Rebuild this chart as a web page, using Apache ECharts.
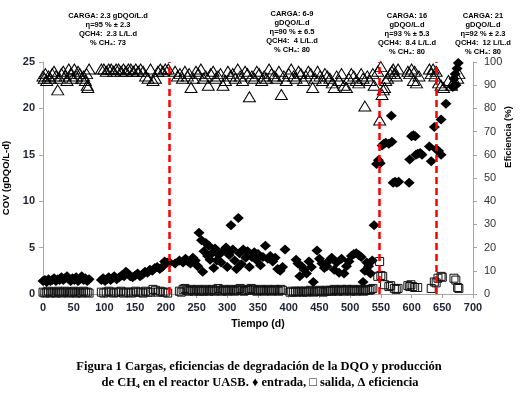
<!DOCTYPE html>
<html>
<head>
<meta charset="utf-8">
<script src="https://cdn.jsdelivr.net/npm/echarts@6/dist/echarts.min.js"></script>
<style>html,body{margin:0;padding:0;background:#fff}#c{width:520px;height:393px}</style>
</head>
<body>
<div id="c"></div>
<script>
// Entrada (COV, gDQO/L-d) - diamonds
const inDays = [0,3,6,9,12,15,18,21,24,27,30,33,36,39,42,45,48,51,54,57,60,63,66,69,72,75,
 95,98,101,104,107,110,113,116,120,124,128,132,135,138,142,146,150,154,158,162,166,170,174,178,182,186,190,194,198,202,206,
 215,222,228,232,236,240,244,248,252,254,258,260,262,265,268,270,272,275,278,280,283,286,290,294,298,300,303,306,309,312,315,318,320,323,326,330,333,336,340,344,347,350,354,358,362,366,370,374,378,382,386,390,394,
 412,415,418,421,425,429,433,437,440,446,450,454,458,462,466,470,474,478,482,486,490,494,498,502,506,510,514,518,521,524,527,530,533,536,539,
 543,546,549,552,555,558,563,567,568,570,573,576,579,596,597,600,603,606,607,610,614,617,629,632,637,640,644,648,648,656,667,669,671,672,674,676];
const inVals = [1.4,1.5,1.3,1.6,1.4,1.5,1.7,1.4,1.6,1.5,1.8,1.5,1.7,1.9,1.6,1.4,1.7,1.5,1.8,1.4,1.6,1.9,1.5,1.7,1.4,1.6,
 1.5,1.7,1.4,1.6,1.8,1.5,1.7,1.9,1.6,1.8,2.0,1.9,2.4,2.2,1.9,1.8,2.0,2.2,1.9,2.1,2.4,2.3,2.6,2.5,2.8,2.9,2.7,2.9,3.5,3.4,3.4,
 3.3,3.6,3.4,3.8,3.5,3.3,3.9,3.6,3.0,6.6,5.8,2.4,4.6,5.5,4.1,5.2,3.7,4.4,2.8,4.9,3.6,4.2,3.4,4.7,5.0,2.9,4.2,7.4,4.8,3.6,2.7,8.2,4.4,3.2,4.8,3.9,4.6,2.9,4.0,4.5,3.7,4.3,3.1,4.0,5.2,3.8,4.1,3.5,3.9,2.7,2.5,2.9,4.8,
 3.7,3.3,1.9,3.0,2.6,2.2,3.5,2.9,1.3,4.7,3.8,3.3,2.8,3.0,3.6,3.9,2.6,3.4,2.3,3.8,2.2,3.0,3.5,4.1,4.3,4.4,4.2,4.0,1.3,2.5,3.4,3.0,2.2,3.6,7.4,
 14.0,14.4,14.1,16.0,16.2,16.3,16.2,19.2,16.4,12.0,12.1,12.0,12.1,12.0,14.5,17.0,17.1,17.0,15.0,15.1,15.2,15.0,15.9,14.3,18.0,15.6,15.4,18.8,15.0,20.5,22.3,23.2,23.7,22.5,24.3,24.9];

// Salida (COV, gDQO/L-d) - squares
const outDays = [0,3,6,9,12,15,18,21,24,27,30,33,36,39,42,45,48,51,54,57,60,63,66,69,72,75,
 95,99,103,107,111,115,119,123,127,131,135,139,143,147,151,155,159,163,167,171,175,179,183,187,191,195,199,203,
 222,225,228,231,234,237,240,243,246,249,252,255,258,261,264,267,270,273,276,279,282,285,288,291,294,297,300,303,306,309,312,315,318,321,324,327,330,333,336,339,342,345,348,351,354,357,360,363,366,369,372,375,378,381,384,387,390,
 402,405,408,411,414,417,420,423,426,429,432,435,438,441,444,447,450,453,456,459,462,465,468,471,474,477,480,483,486,489,492,495,498,501,504,507,510,513,516,519,522,525,528,531,534,537,
 545,548,550,553,556,563,566,572,575,578,594,597,599,602,605,610,632,637,640,643,648,650,669,672,675,677];
const outVals = [0.2,0.1,0.2,0.3,0.1,0.2,0.2,0.1,0.3,0.2,0.1,0.2,0.3,0.2,0.1,0.2,0.2,0.3,0.1,0.2,0.2,0.1,0.3,0.2,0.2,0.1,
 0.2,0.1,0.2,0.3,0.2,0.1,0.2,0.2,0.3,0.1,0.2,0.2,0.1,0.2,0.3,0.2,0.2,0.1,0.3,0.2,0.2,0.5,0.4,0.2,0.3,0.2,0.2,0.1,
 0.3,0.2,0.5,0.6,0.4,0.3,0.5,0.4,0.3,0.4,0.5,0.3,0.4,0.3,0.5,0.4,0.3,0.4,0.5,0.3,0.4,0.6,0.4,0.3,0.5,0.4,0.3,0.4,0.5,0.4,0.3,0.4,0.5,0.6,0.4,0.3,0.4,0.5,0.4,0.6,0.5,0.4,0.3,0.4,0.5,0.4,0.3,0.4,0.5,0.4,0.3,0.4,0.5,0.4,0.3,0.5,0.4,
 0.2,0.3,0.2,0.3,0.2,0.3,0.3,0.2,0.3,0.2,0.3,0.4,0.3,0.2,0.3,0.3,0.4,0.3,0.2,0.3,0.4,0.3,0.4,0.3,0.5,0.4,0.3,0.4,0.5,0.3,0.4,0.5,0.4,0.3,0.5,0.4,0.3,0.4,0.5,0.4,0.3,0.4,0.5,0.4,0.5,0.6,
 1.9,3.5,2.0,1.9,1.0,0.8,0.9,0.6,0.5,0.6,0.9,0.8,1.0,0.8,0.7,0.7,0.6,1.3,1.2,1.7,1.9,1.8,1.7,1.5,0.7,0.6];

// Eficiencia (%) - triangles
const effDays = [0,2,4,6,9,12,15,18,21,24,27,30,33,36,39,42,45,48,51,54,57,60,63,66,69,71,72,73,75,
 95,99,103,107,111,115,119,123,127,131,135,139,143,147,151,155,159,163,167,171,175,179,183,187,191,195,199,204,
 215,219,223,227,231,235,238,241,245,249,253,257,261,265,269,273,277,281,285,289,293,297,301,305,309,313,317,321,325,329,333,336,340,344,348,352,356,360,364,368,372,376,380,384,388,392,396,400,404,408,412,416,420,424,428,432,436,439,443,447,451,455,459,463,467,471,474,478,482,486,490,494,498,502,506,510,514,518,521,524,528,532,537,539,
 545,548,550,552,554,556,558,561,565,568,570,572,575,578,594,597,600,603,605,608,612,629,632,635,638,640,644,648,652,660,665,670,675,677];
const effVals = [94,93,95,92,94,93,95,96,94,88,93,95,96,94,92,97,95,93,97,94,96,95,93,94,92,95,90,89,97,
 97,97,96,97,97,96,97,97,96,97,96,97,97,96,97,96,97,96,94,93,97,92,93,96,97,96,97,97,
 96,94,95,93,96,94,95,89,93,96,95,97,93,94,90,95,96,93,94,95,90,92,96,94,95,93,97,94,92,96,95,85,94,93,96,95,92,94,93,97,95,94,93,96,86,94,92,95,97,94,93,96,95,92,94,96,95,89,93,96,94,92,95,94,93,91,89,94,92,95,90,89,93,95,94,92,91,95,93,81,94,92,95,90,96,
 75,98,86,88,89,92,93,95,96,97,95,94,97,96,95,97,92,96,91,94,97,95,97,94,96,91,90,89,92,90,92,93,95,89];

const lineDays = [205, 547, 640];

const xTicks = {min: 0, max: 700, step: 50};
const yTicks = {min: 0, max: 25, step: 5};
const y2Ticks = {min: 0, max: 100, step: 10};

const zip = (a, b) => a.map((d, i) => [d, b[i]]);

const chart = echarts.init(document.getElementById('c'), null, {renderer: 'canvas'});
const axisGrey = '#a6a6a6';
const noteFont = 'bold 7.5px "Liberation Sans", Arial, sans-serif';

chart.setOption({
  animation: false,
  backgroundColor: '#fff',
  grid: {left: 43, right: 47, top: 62, bottom: 99, containLabel: false, outerBoundsMode: 'none'},
  xAxis: {
    type: 'value', min: xTicks.min, max: xTicks.max, interval: xTicks.step,
    splitLine: {show: false},
    axisLine: {show: true, onZero: false, lineStyle: {color: axisGrey, width: 1}},
    axisTick: {show: true, length: 4, lineStyle: {color: axisGrey}},
    axisLabel: {color: '#1f2233', fontSize: 11, fontWeight: 'bold', fontFamily: '"Liberation Sans", Arial, sans-serif', margin: 8}
  },
  yAxis: [{
    type: 'value', min: yTicks.min, max: yTicks.max, interval: yTicks.step,
    splitLine: {show: false},
    axisLine: {show: true, lineStyle: {color: axisGrey, width: 1}},
    axisTick: {show: true, length: 4, lineStyle: {color: axisGrey}},
    axisLabel: {color: '#1f2233', fontSize: 11, fontWeight: 'bold', fontFamily: '"Liberation Sans", Arial, sans-serif', margin: 8},
    name: 'COV (gDQO/L-d)', nameLocation: 'middle', nameRotate: 90, nameGap: 30,
    nameTextStyle: {color: '#000', fontSize: 9.5, fontWeight: 'bold', fontFamily: '"Liberation Sans", Arial, sans-serif'}
  }, {
    type: 'value', min: y2Ticks.min, max: y2Ticks.max, interval: y2Ticks.step, position: 'right',
    splitLine: {show: false},
    axisLine: {show: true, lineStyle: {color: axisGrey, width: 1}},
    axisTick: {show: true, length: 4, lineStyle: {color: axisGrey}},
    axisLabel: {color: '#333', fontSize: 11, fontFamily: '"Liberation Sans", Arial, sans-serif', margin: 11}
  }],
  series: [{
    name: 'entrada', type: 'scatter', yAxisIndex: 0, symbol: 'diamond', symbolSize: [11, 10],
    itemStyle: {color: '#000', opacity: 1},
    data: zip(inDays, inVals),
    markLine: {
      silent: true, symbol: 'none', label: {show: false},
      lineStyle: {color: '#ff0000', type: [7, 4], width: 2.5, opacity: 1},
      data: lineDays.map(d => ({xAxis: d}))
    }
  }, {
    name: 'salida', type: 'scatter', yAxisIndex: 0, symbol: 'rect', symbolSize: 8,
    itemStyle: {color: 'rgba(255,255,255,0)', borderColor: '#111', borderWidth: 1, opacity: 1},
    data: zip(outDays, outVals)
  }, {
    name: 'eficiencia', type: 'scatter', yAxisIndex: 1, symbol: 'triangle', symbolSize: [12, 10],
    itemStyle: {color: 'rgba(255,255,255,0)', borderColor: '#000', borderWidth: 1, opacity: 1},
    data: zip(effDays, effVals)
  }],
  graphic: [
    {type: 'text', x: 108, y: 11, style: {text: 'CARGA: 2.3 gDQO/L.d\nη=95 % ± 2.3\nQCH4:  2.3 L/L.d\n% CH₄: 73', font: noteFont, lineHeight: 9, textAlign: 'center', fill: '#000'}},
    {type: 'text', x: 292, y: 9.5, style: {text: 'CARGA: 6-9\ngDQO/L.d\nη=90 % ± 6.5\nQCH4:  4 L/L.d\n% CH₄: 80', font: noteFont, lineHeight: 9, textAlign: 'center', fill: '#000'}},
    {type: 'text', x: 407, y: 11, style: {text: 'CARGA: 16\ngDQO/L.d\nη=93 % ± 5.3\nQCH4:  8.4 L/L.d\n% CH₄: 80', font: noteFont, lineHeight: 9, textAlign: 'center', fill: '#000'}},
    {type: 'text', x: 483, y: 11, style: {text: 'CARGA: 21\ngDQO/L.d\nη=92 % ± 2.3\nQCH4:  12 L/L.d\n% CH₄: 80', font: noteFont, lineHeight: 9, textAlign: 'center', fill: '#000'}},
    {type: 'text', x: 508, y: 137, rotation: Math.PI / 2, style: {text: 'Eficiencia (%)', font: 'bold 9.5px "Liberation Sans", Arial, sans-serif', textAlign: 'center', textVerticalAlign: 'middle', fill: '#000'}},
    {type: 'text', x: 258, y: 324, style: {text: 'Tiempo (d)', font: 'bold 10.5px "Liberation Sans", Arial, sans-serif', textAlign: 'center', textVerticalAlign: 'middle', fill: '#000'}},
    {type: 'text', x: 259, y: 367, style: {text: 'Figura 1 Cargas, eficiencias de degradación de la DQO y producción', font: 'bold 12.5px "Liberation Serif", "Times New Roman", serif', textAlign: 'center', textVerticalAlign: 'middle', fill: '#000'}},
    {type: 'text', x: 260, y: 383, style: {text: 'de CH₄ en el reactor UASB. ♦ entrada, □ salida, Δ eficiencia', font: 'bold 12.5px "Liberation Serif", "Times New Roman", serif', textAlign: 'center', textVerticalAlign: 'middle', fill: '#000'}}
  ]
});
</script>
</body>
</html>
